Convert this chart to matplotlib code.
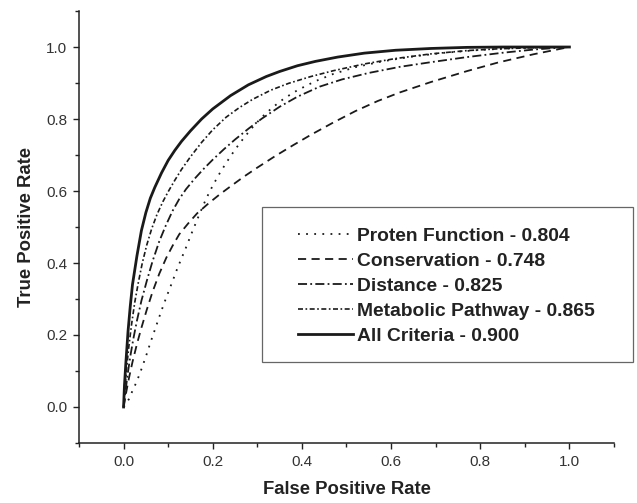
import matplotlib
matplotlib.use("Agg")
from matplotlib import pyplot as plt
from matplotlib.patches import Rectangle
import numpy as np

plt.rcParams['font.family'] = ['Liberation Sans', 'DejaVu Sans']

# ROC curves (false positive rate, true positive rate)
protein_fpr = [0, 0.005, 0.012, 0.02, 0.03, 0.04, 0.05, 0.06, 0.07, 0.08, 0.09, 0.10, 0.11, 0.12, 0.13,
               0.14, 0.155, 0.17, 0.185, 0.20, 0.215, 0.23, 0.25, 0.27, 0.29, 0.31, 0.335, 0.36, 0.39,
               0.43, 0.47, 0.52, 0.58, 0.65, 0.72, 0.80, 0.88, 1.0]
protein_tpr = [0, 0.008, 0.022, 0.045, 0.072, 0.105, 0.14, 0.178, 0.214, 0.25, 0.285, 0.318, 0.35, 0.383,
               0.413, 0.443, 0.49, 0.535, 0.578, 0.615, 0.648, 0.678, 0.715, 0.748, 0.778, 0.805, 0.833,
               0.857, 0.88, 0.905, 0.925, 0.944, 0.96, 0.974, 0.984, 0.992, 0.997, 1.0]

conserv_fpr = [0, 0.005, 0.012, 0.02, 0.03, 0.04, 0.052, 0.065, 0.08, 0.096, 0.11, 0.125, 0.145, 0.165,
               0.19, 0.215, 0.24, 0.27, 0.30, 0.34, 0.38, 0.42, 0.47, 0.52, 0.57, 0.62, 0.69, 0.77,
               0.84, 0.92, 1.0]
conserv_tpr = [0, 0.035, 0.08, 0.125, 0.175, 0.22, 0.27, 0.32, 0.37, 0.415, 0.448, 0.48, 0.51, 0.538,
               0.565, 0.59, 0.613, 0.64, 0.665, 0.697, 0.727, 0.756, 0.79, 0.822, 0.85, 0.874, 0.903,
               0.933, 0.957, 0.98, 1.0]

distance_fpr = [0, 0.004, 0.009, 0.015, 0.022, 0.03, 0.04, 0.052, 0.065, 0.08, 0.095, 0.11, 0.125, 0.14,
                0.16, 0.18, 0.20, 0.225, 0.25, 0.28, 0.31, 0.35, 0.39, 0.44, 0.49, 0.55, 0.62, 0.69,
                0.77, 0.85, 0.92, 1.0]
distance_tpr = [0, 0.04, 0.09, 0.14, 0.19, 0.24, 0.295, 0.35, 0.405, 0.46, 0.505, 0.545, 0.578, 0.605,
                0.635, 0.662, 0.687, 0.716, 0.743, 0.773, 0.801, 0.834, 0.862, 0.89, 0.91, 0.928, 0.945,
                0.958, 0.972, 0.984, 0.993, 1.0]

metab_fpr = [0, 0.003, 0.007, 0.012, 0.018, 0.025, 0.033, 0.042, 0.052, 0.063, 0.075, 0.088, 0.10, 0.115,
             0.13, 0.15, 0.175, 0.20, 0.23, 0.26, 0.29, 0.33, 0.37, 0.42, 0.47, 0.54, 0.61, 0.69, 0.77,
             0.84, 0.92, 1.0]
metab_tpr = [0, 0.05, 0.11, 0.17, 0.23, 0.29, 0.345, 0.40, 0.45, 0.495, 0.535, 0.57, 0.598, 0.63, 0.66,
             0.695, 0.735, 0.77, 0.805, 0.832, 0.855, 0.88, 0.899, 0.918, 0.934, 0.953, 0.968, 0.981,
             0.99, 0.995, 0.998, 1.0]

all_fpr = [0, 0.002, 0.005, 0.01, 0.015, 0.02, 0.03, 0.04, 0.05, 0.06, 0.07, 0.085, 0.10, 0.115, 0.13,
           0.15, 0.175, 0.20, 0.24, 0.28, 0.32, 0.35, 0.39, 0.43, 0.48, 0.54, 0.61, 0.69, 0.77, 0.85,
           0.92, 1.0]
all_tpr = [0, 0.06, 0.12, 0.21, 0.28, 0.34, 0.42, 0.49, 0.54, 0.58, 0.61, 0.65, 0.685, 0.713, 0.738,
           0.767, 0.80, 0.828, 0.865, 0.895, 0.918, 0.932, 0.948, 0.96, 0.972, 0.983, 0.991, 0.996,
           0.999, 1.0, 1.0, 1.0]

labels = ['Proten Function - 0.804', 'Conservation - 0.748', 'Distance - 0.825',
          'Metabolic Pathway - 0.865', 'All Criteria - 0.900']

fig = plt.figure(figsize=(6.37, 5.03), dpi=100)
ax = fig.add_axes([0.124, 0.1193, 0.8399, 0.8588])

ink = '#1a1a1a'
ax.plot(protein_fpr, protein_tpr, color=ink, lw=1.3, ls=(0, (1, 3.5)), label=labels[0])
ax.plot(conserv_fpr, conserv_tpr, color=ink, lw=1.3, ls=(0, (4.5, 3)), label=labels[1])
ax.plot(distance_fpr, distance_tpr, color=ink, lw=1.3, ls=(0, (5, 1.8, 1, 1.8)), label=labels[2])
ax.plot(metab_fpr, metab_tpr, color=ink, lw=1.2, ls=(0, (3, 1.5, 1, 1.5)), label=labels[3])
ax.plot(all_fpr, all_tpr, color=ink, lw=2.0, ls='-', label=labels[4])

ax.set_xlim(-0.1, 1.1)
ax.set_ylim(-0.1, 1.1)
ticks = np.arange(0, 1.01, 0.2)
ax.set_xticks(ticks)
ax.set_yticks(ticks)
ax.set_xticks(np.arange(-0.1, 1.11, 0.2), minor=True)
ax.set_yticks(np.arange(-0.1, 1.11, 0.2), minor=True)
ax.xaxis.set_major_formatter(plt.FormatStrFormatter('%.1f'))
ax.yaxis.set_major_formatter(plt.FormatStrFormatter('%.1f'))

for s in ['top', 'right']:
    ax.spines[s].set_visible(False)
for s in ['left', 'bottom']:
    ax.spines[s].set_linewidth(1.1)
    ax.spines[s].set_color('#222222')

ax.tick_params(which='major', direction='out', length=4.5, width=1.0, color='#222222',
               labelsize=11, labelcolor='#333333', pad=4)
ax.tick_params(which='minor', direction='out', length=3, width=1.0, color='#222222')

ax.set_xlabel('False Positive Rate', fontsize=13.3, fontweight='bold', color='#222222', labelpad=9)
ax.set_ylabel('True Positive Rate', fontsize=13.3, fontweight='bold', color='#222222', labelpad=8)

# legend frame drawn separately so the box can be wider than its contents
fig.add_artist(Rectangle((262 / 637, 1 - 362 / 503), 371 / 637, 155 / 503,
                         transform=fig.transFigure, fill=False,
                         edgecolor='#666666', lw=0.9))
leg = ax.legend(loc='upper left', bbox_to_anchor=(298 / 637, 1 - 227.5 / 503),
                bbox_transform=fig.transFigure, frameon=False,
                prop={'weight': 'bold', 'size': 13.9},
                borderpad=0, borderaxespad=0, handlelength=2.85,
                handletextpad=0.2, labelspacing=0.39)
for t in leg.get_texts():
    t.set_color('#222222')

plt.savefig('out.png', dpi=100)
